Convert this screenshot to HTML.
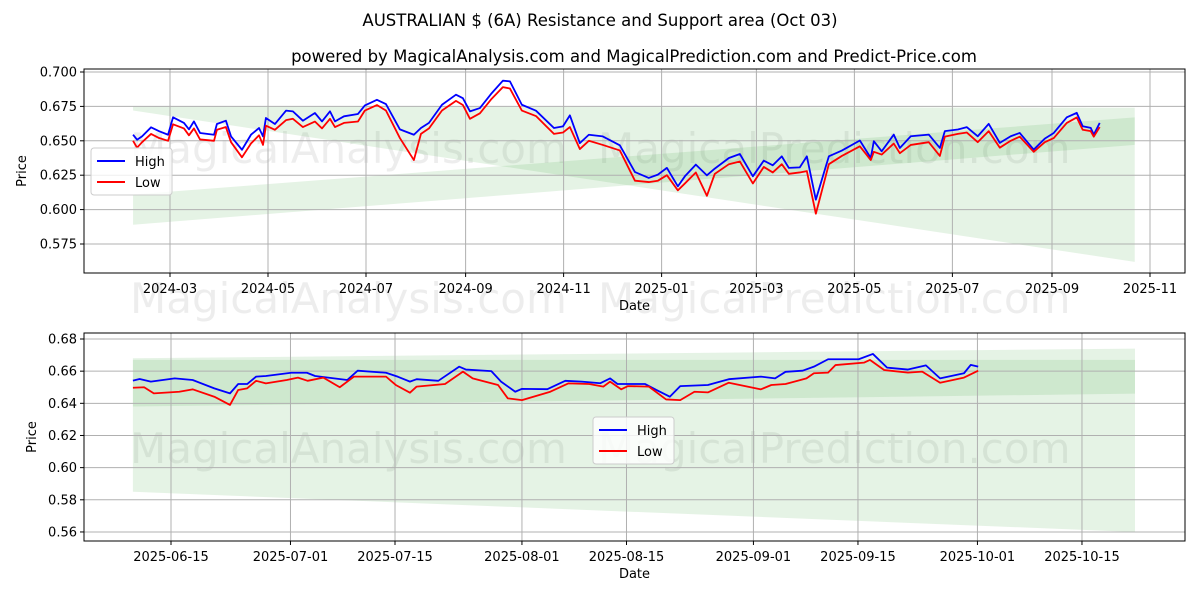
<!DOCTYPE html>
<html><head><meta charset="utf-8">
<style>
html,body{margin:0;padding:0;background:#fff;}
svg{display:block;font-family:"DejaVu Sans","Liberation Sans",sans-serif;}
</style></head>
<body>
<svg id="chart" width="1200" height="600" viewBox="0 0 1200 600" xmlns="http://www.w3.org/2000/svg">
<rect width="1200" height="600" fill="#fff"/>
<text x="600" y="26" font-size="16.5" text-anchor="middle" fill="#000">AUSTRALIAN $ (6A) Resistance and Support area (Oct 03)</text>
<text x="634" y="62" font-size="16.5" text-anchor="middle" fill="#000">powered by MagicalAnalysis.com and MagicalPrediction.com and Predict-Price.com</text>
<g id="top"></g>
<g id="bot"></g>
</svg>
<script>
// ---- Top panel data (days since 2024-03-01) ----
const topHighDays=[-23,-20.5,-17.4,-11.8,-6.8,-1.2,1.9,8.7,11.8,14.9,18.7,27.4,29.2,34.8,38,44.8,50.4,55.4,57.9,59.7,65.3,72.2,76.5,82.7,90.2,94.6,99.6,102.7,108.3,117,121.3,128.8,134.4,143.1,151.8,156.2,161.2,169.3,178,182.3,186.7,192.9,199.8,207.2,211.6,219,227.8,239,244.6,248.9,255.1,260.7,269.4,280,289.4,298,303.7,309.3,316.1,320.5,327.3,334.2,339.1,347.9,354.7,362.8,369.6,375.2,380.8,385.2,392,396.4,402,410.1,418.2,429.4,436.2,438.1,443,450.5,454.3,461.1,472.3,479.2,482.3,490.4,496,502.8,509.6,516.5,523.3,528.9,537.6,544.5,550.1,558.2,564.4,568.1,573.1,575,578.7];
const topHighVals=[0.6544,0.6508,0.6532,0.6598,0.657,0.6544,0.6671,0.663,0.6583,0.6641,0.6557,0.6544,0.6622,0.6646,0.6532,0.6435,0.6544,0.6593,0.6532,0.6666,0.6622,0.6719,0.6714,0.6646,0.6702,0.6641,0.6714,0.6641,0.6678,0.6695,0.6757,0.6798,0.6767,0.6583,0.6544,0.6593,0.663,0.6762,0.6835,0.681,0.6714,0.6738,0.684,0.6937,0.6932,0.6762,0.6719,0.6593,0.6605,0.6685,0.6483,0.6544,0.6532,0.6467,0.6273,0.623,0.6254,0.6303,0.6169,0.6242,0.6327,0.6249,0.6298,0.6375,0.6404,0.6242,0.6356,0.6322,0.6387,0.6303,0.6307,0.6387,0.6072,0.6387,0.6429,0.6502,0.6375,0.6497,0.6424,0.6545,0.6448,0.6533,0.6545,0.6448,0.657,0.6582,0.6599,0.6533,0.6623,0.6485,0.6533,0.6557,0.6436,0.6516,0.6557,0.6671,0.6703,0.6606,0.6594,0.6545,0.663];
const topLowDays=topHighDays;
const topLowVals=[0.650,0.645,0.649,0.655,0.652,0.650,0.662,0.659,0.654,0.659,0.651,0.650,0.658,0.660,0.649,0.638,0.648,0.654,0.647,0.661,0.658,0.665,0.666,0.660,0.664,0.659,0.666,0.660,0.663,0.664,0.672,0.676,0.672,0.652,0.636,0.655,0.659,0.672,0.679,0.676,0.666,0.670,0.680,0.689,0.688,0.672,0.668,0.655,0.656,0.660,0.644,0.650,0.647,0.643,0.621,0.620,0.621,0.625,0.614,0.619,0.627,0.610,0.626,0.633,0.635,0.619,0.631,0.627,0.633,0.626,0.627,0.628,0.597,0.633,0.639,0.646,0.636,0.642,0.640,0.648,0.641,0.647,0.649,0.639,0.653,0.655,0.656,0.649,0.657,0.645,0.650,0.653,0.642,0.649,0.652,0.663,0.667,0.658,0.657,0.653,0.660];
const topYTicks=[0.575,0.600,0.625,0.650,0.675,0.700];
const topXTickDays=[0,61,122,184,245,306,365,426,487,549,610];
const topXTickLabels=["2024-03","2024-05","2024-07","2024-09","2024-11","2025-01","2025-03","2025-05","2025-07","2025-09","2025-11"];
const topBandDays=[-23,600.5];
const topBand1Upper=[0.675,0.674];
const topBand1Lower=[0.672,0.562];
const topBand2Upper=[0.611,0.667];
const topBand2Lower=[0.589,0.647];

// ---- Bottom panel data (days since 2025-06-15) ----
const botHighDays=[-5.1,-4.2,-2.7,0.5,2.9,5.8,7.9,9,10.2,11.4,12.7,16.1,18.2,19.3,23.6,25,28.8,30.4,32,32.9,35.8,38.6,39.5,42.9,44.2,46.1,47,50.4,52.8,55,57.5,58.8,59.8,63.5,65,66.8,68.2,71.9,74.7,79,80.9,82.3,84.6,86.1,88,92.1,94,95.9,98.7,101.1,103,106.2,107.1,108.1];
const botHighVals=[0.6541,0.6551,0.6535,0.6555,0.6545,0.6493,0.6462,0.652,0.652,0.6566,0.657,0.659,0.659,0.657,0.6545,0.6603,0.659,0.6565,0.6535,0.655,0.654,0.6628,0.661,0.660,0.6535,0.6472,0.649,0.6488,0.654,0.6535,0.6525,0.6555,0.652,0.652,0.6483,0.6441,0.6507,0.6514,0.655,0.6566,0.6555,0.6596,0.6603,0.6628,0.6674,0.6674,0.6707,0.6622,0.661,0.6636,0.6555,0.6587,0.6639,0.6628];
const botLowDays=[-5.1,-3.6,-2.3,1.1,2.9,5.8,7.9,9,10.2,11.4,12.7,15.5,17,18.3,20.4,22.6,24.5,28.8,30.1,32,32.9,36.7,39.1,40.4,43.8,45.1,47,50.8,53.2,56,57.9,58.8,60.3,61.2,64,66.3,68.2,70.1,71.9,74.7,79,80.4,82.3,85.1,86.1,88,89,92.8,93.6,95.5,98.7,100.6,103,106.2,108.1];
const botLowVals=[0.6497,0.650,0.6462,0.6472,0.6487,0.6441,0.639,0.6483,0.6493,0.654,0.6524,0.6545,0.656,0.654,0.656,0.650,0.6566,0.6566,0.6514,0.6466,0.6504,0.652,0.6597,0.6555,0.6514,0.6431,0.642,0.6472,0.6524,0.652,0.6504,0.6535,0.6487,0.6507,0.6504,0.6424,0.642,0.6472,0.6468,0.6528,0.6487,0.6514,0.652,0.6555,0.6587,0.6591,0.6638,0.6653,0.667,0.6607,0.6591,0.6597,0.6528,0.656,0.6603];
const botYTicks=[0.56,0.58,0.60,0.62,0.64,0.66,0.68];
const botXTickDays=[0,16,30,47,61,78,92,108,122];
const botXTickLabels=["2025-06-15","2025-07-01","2025-07-15","2025-08-01","2025-08-15","2025-09-01","2025-09-15","2025-10-01","2025-10-15"];
const botBandDays=[-5.1,129.1];
const botBand1Upper=[0.668,0.674];
const botBand1Lower=[0.585,0.560];
const botBand2Upper=[0.667,0.667];
const botBand2Lower=[0.638,0.646];

const NS="http://www.w3.org/2000/svg";
function mk(parent,tag,attrs){const e=document.createElementNS(NS,tag);for(const k in attrs)e.setAttribute(k,attrs[k]);parent.appendChild(e);return e;}

function watermark(parent,y){
  const a=mk(parent,'text',{x:130,y:y,'font-size':42,fill:'#000','fill-opacity':0.07});
  
  
  a.textContent='MagicalAnalysis.com';
  const b=mk(parent,'text',{x:598,y:y,'font-size':42,fill:'#000','fill-opacity':0.07});
  
  
  b.textContent='MagicalPrediction.com';
}

function drawPanel(g,cfg){
  const L=84,R=1185,T=cfg.top,B=cfg.bottom;
  const xs=d=>cfg.x0+d*cfg.pxPerDay;
  const ys=v=>cfg.yRef+(cfg.vRef-v)*cfg.pxPerUnit;
  watermark(g,cfg.wmY);
  function band(up,lo,name){
    const pts=[[xs(cfg.bandDays[0]),ys(up[0])],[xs(cfg.bandDays[1]),ys(up[1])],[xs(cfg.bandDays[1]),ys(lo[1])],[xs(cfg.bandDays[0]),ys(lo[0])]];
    const p=mk(g,'polygon',{points:pts.map(p=>p.join(',')).join(' '),fill:'#2ca02c','fill-opacity':0.12});
    
    
  }
  band(cfg.b1u,cfg.b1l,'resistance-support-band');
  band(cfg.b2u,cfg.b2l,'resistance-support-band-inner');
  cfg.yTicks.forEach(v=>{
    const y=ys(v);
    const ln=mk(g,'line',{x1:L,x2:R,y1:y,y2:y,stroke:'#b0b0b0','stroke-width':1});
    
    
    mk(g,'line',{x1:L-4,x2:L,y1:y,y2:y,stroke:'#000'});
    const t=mk(g,'text',{x:L-7,y:y+4.5,'font-size':13,'text-anchor':'end',fill:'#000'});
    
    
    t.textContent=cfg.yFmt(v);
  });
  cfg.xTickDays.forEach((d,i)=>{
    const x=xs(d);
    const ln=mk(g,'line',{x1:x,x2:x,y1:T,y2:B,stroke:'#b0b0b0','stroke-width':1});
    
    
    mk(g,'line',{x1:x,x2:x,y1:B,y2:B+4,stroke:'#000'});
    const t=mk(g,'text',{x:x,y:B+20,'font-size':13,'text-anchor':'middle',fill:'#000'});
    
    
    t.textContent=cfg.xLabels[i];
  });
  function line(days,vals,color,name){
    const pl=mk(g,'polyline',{points:days.map((d,i)=>xs(d)+','+ys(vals[i])).join(' '),fill:'none',stroke:color,'stroke-width':1.8,'stroke-linejoin':'round'});
    
    
  }
  line(cfg.hd,cfg.hv,'#0000ff','high-line');
  line(cfg.ld,cfg.lv,'#ff0000','low-line');
  const fr=mk(g,'rect',{x:L,y:T,width:R-L,height:B-T,fill:'none',stroke:'#000','stroke-width':1});
  
  
  const xt=mk(g,'text',{x:(L+R)/2,y:B+37,'font-size':13,'text-anchor':'middle',fill:'#000'});
  
  
  xt.textContent='Date';
  const yt=mk(g,'text',{x:cfg.yTitleX,y:(T+B)/2,'font-size':13,'text-anchor':'middle',fill:'#000',transform:`rotate(-90 ${cfg.yTitleX} ${(T+B)/2})`});
  
  
  yt.textContent='Price';
  const lg=mk(g,'g',{});
  
  
  const lx=cfg.legX,ly=cfg.legY;
  mk(lg,'rect',{x:lx,y:ly,width:81,height:47,rx:3,fill:'#fff','fill-opacity':0.8,stroke:'#ccc'});
  [['High','#0000ff'],['Low','#ff0000']].forEach((e,i)=>{
    const eg=mk(lg,'g',{});
    
    
    mk(eg,'line',{x1:lx+6,x2:lx+34,y1:ly+13+i*21,y2:ly+13+i*21,stroke:e[1],'stroke-width':2});
    const t=mk(eg,'text',{x:lx+44,y:ly+18+i*21,'font-size':13,fill:'#000'});
    t.textContent=e[0];
  });
}

drawPanel(document.getElementById('top'),{
  top:69,bottom:273,x0:170,pxPerDay:980/610,yRef:72,vRef:0.700,pxPerUnit:1376,
  yTicks:topYTicks,yFmt:v=>v.toFixed(3),xTickDays:topXTickDays,xLabels:topXTickLabels,
  bandDays:topBandDays,b1u:topBand1Upper,b1l:topBand1Lower,b2u:topBand2Upper,b2l:topBand2Lower,
  hd:topHighDays,hv:topHighVals,ld:topLowDays,lv:topLowVals,
  wmY:163,yTitleX:26,legX:91,legY:148
});
drawPanel(document.getElementById('bot'),{
  top:333,bottom:541,x0:171,pxPerDay:7.467,yRef:339,vRef:0.68,pxPerUnit:1608,
  yTicks:botYTicks,yFmt:v=>v.toFixed(2),xTickDays:botXTickDays,xLabels:botXTickLabels,
  bandDays:botBandDays,b1u:botBand1Upper,b1l:botBand1Lower,b2u:botBand2Upper,b2l:botBand2Lower,
  hd:botHighDays,hv:botHighVals,ld:botLowDays,lv:botLowVals,
  wmY:463,yTitleX:36,legX:593,legY:417
});
watermark(document.getElementById('chart'),313);
</script>
</body></html>
